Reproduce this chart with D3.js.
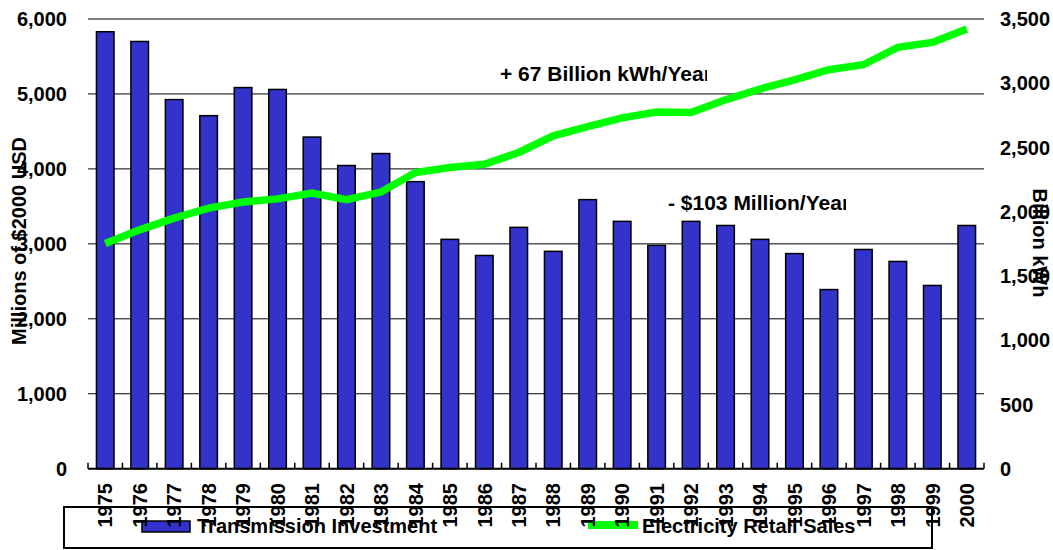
<!DOCTYPE html>
<html>
<head>
<meta charset="utf-8">
<script src="https://cdn.jsdelivr.net/npm/d3@7"></script>
<style>
	body { margin: 0; background: #fff; }
	svg text { font-family: "Liberation Sans", Arial, sans-serif; font-weight: bold; fill: #000; }
</style>
</head>
<body>
<svg id="chart" width="1053" height="550"></svg>
<script>
var years = ["1975","1976","1977","1978","1979","1980","1981","1982","1983","1984","1985","1986","1987",
	"1988","1989","1990","1991","1992","1993","1994","1995","1996","1997","1998","1999","2000"];
// millions of 2000 USD
var investment = [5830,5700,4925,4710,5085,5060,4425,4045,4205,3830,3060,2845,3220,
	2900,3590,3300,2980,3300,3245,3060,2870,2390,2925,2765,2445,3245];
// billion kWh
var retailSales = [1752,1859,1950,2028,2075,2100,2145,2093,2153,2305,2344,2370,2461,
	2591,2663,2731,2776,2773,2871,2955,3027,3105,3144,3279,3318,3422];
var leftTicks = [0,1000,2000,3000,4000,5000,6000];
var rightTicks = [0,500,1000,1500,2000,2500,3000,3500];

// plot box (window.top is taken, so no bare "top")
var plotL = 88, plotR = 984, plotT = 19, plotB = 468.7;
var svg = d3.select("#chart");

var x = d3.scaleBand().domain(years).range([plotL, plotR]).paddingInner(0.49).paddingOuter(0.245);
var yL = d3.scaleLinear().domain([0, 6000]).range([plotB, plotT]);
var yR = d3.scaleLinear().domain([0, 3500]).range([plotB, plotT]);

// gridlines
svg.append("g").selectAll("line").data(leftTicks.filter(function (d) { return d > 0; })).enter().append("line")
	.attr("x1", plotL).attr("x2", plotR)
	.attr("y1", function (d) { return yL(d); }).attr("y2", function (d) { return yL(d); })
	.attr("stroke", "#000").attr("stroke-width", 1);

// legend first, the year labels sit on top of it
var legend = svg.append("g");
legend.append("rect").attr("x", 64).attr("y", 507).attr("width", 868).attr("height", 41)
	.attr("fill", "none").attr("stroke", "#000").attr("stroke-width", 2);
legend.append("rect").attr("x", 142).attr("y", 521).attr("width", 48).attr("height", 11)
	.attr("fill", "#3333cc").attr("stroke", "#000").attr("stroke-width", 1.5);
legend.append("text").attr("x", 197).attr("y", 533).attr("font-size", 20).text("Transmission Investment");
legend.append("line").attr("x1", 588).attr("x2", 638).attr("y1", 525).attr("y2", 525)
	.attr("stroke", "#00ff00").attr("stroke-width", 8);
legend.append("text").attr("x", 642).attr("y", 533).attr("font-size", 20).text("Electricity Retail Sales");

// bars
svg.append("g").selectAll("rect").data(investment).enter().append("rect")
	.attr("x", function (d, i) { return x(years[i]); })
	.attr("y", function (d) { return yL(d); })
	.attr("width", x.bandwidth())
	.attr("height", function (d) { return plotB - yL(d); })
	.attr("fill", "#3333cc").attr("stroke", "#000").attr("stroke-width", 1.5);

// x axis line and inner ticks
svg.append("line").attr("x1", plotL).attr("x2", plotR).attr("y1", plotB).attr("y2", plotB)
	.attr("stroke", "#000").attr("stroke-width", 2);
svg.append("g").selectAll("line").data(d3.range(years.length + 1)).enter().append("line")
	.attr("x1", function (i) { return plotL + i * x.step(); })
	.attr("x2", function (i) { return plotL + i * x.step(); })
	.attr("y1", plotB).attr("y2", plotB - 6)
	.attr("stroke", "#000").attr("stroke-width", 1.5);

// sales line
var line = d3.line()
	.x(function (d, i) { return x(years[i]) + x.bandwidth() / 2; })
	.y(function (d) { return yR(d); });
svg.append("path").datum(retailSales).attr("d", line)
	.attr("fill", "none").attr("stroke", "#00ff00").attr("stroke-width", 7.5)
	.attr("stroke-linejoin", "miter");

// tick labels
svg.append("g").selectAll("text").data(leftTicks).enter().append("text")
	.attr("x", 67).attr("y", function (d) { return yL(d); })
	.attr("dy", "0.36em").attr("text-anchor", "end").attr("font-size", 20)
	.text(d3.format(","));
svg.append("g").selectAll("text").data(rightTicks).enter().append("text")
	.attr("x", 1000).attr("y", function (d) { return yR(d); })
	.attr("dy", "0.36em").attr("text-anchor", "start").attr("font-size", 20)
	.text(d3.format(","));
svg.append("g").selectAll("text").data(years).enter().append("text")
	.attr("transform", function (d) { return "translate(" + (x(d) + x.bandwidth() / 2) + ",483) rotate(-90)"; })
	.attr("dy", "0.36em").attr("text-anchor", "end").attr("font-size", 20)
	.text(function (d) { return d; });

// axis titles
svg.append("text").attr("transform", "translate(19,241) rotate(-90)")
	.attr("dy", "0.36em").attr("text-anchor", "middle").attr("font-size", 20)
	.text("Millions of $2000 USD");
svg.append("text").attr("transform", "translate(1040,243) rotate(90)")
	.attr("dy", "0.36em").attr("text-anchor", "middle").attr("font-size", 20)
	.text("Billion kWh");

// trend notes, cut off at the right like the original text boxes
var defs = svg.append("defs");
defs.append("clipPath").attr("id", "clipUp").append("rect").attr("x", 480).attr("y", 50).attr("width", 227).attr("height", 50);
defs.append("clipPath").attr("id", "clipDown").append("rect").attr("x", 650).attr("y", 180).attr("width", 196).attr("height", 50);
svg.append("text").attr("clip-path", "url(#clipUp)").attr("x", 500).attr("y", 81).attr("font-size", 21)
	.text("+ 67 Billion kWh/Year");
svg.append("text").attr("clip-path", "url(#clipDown)").attr("x", 668).attr("y", 210).attr("font-size", 21)
	.text("- $103 Million/Year");
</script>
</body>
</html>
